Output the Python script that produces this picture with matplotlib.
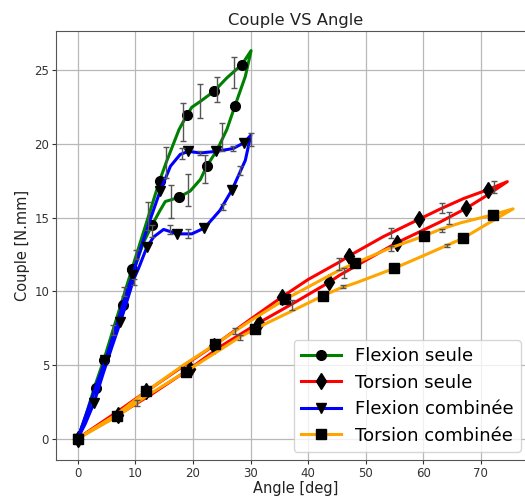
import matplotlib
matplotlib.use("Agg")
import matplotlib.pyplot as plt

# ---------------- data ----------------
# Flexion seule (loading branch then unloading branch)
flex_seule_angle = [0, 1.5, 3.0, 4.5, 6.3, 7.9, 9.4, 11.0, 12.6, 14.2, 15.4, 16.6, 17.6, 19.0, 19.8,
                    21.3, 23.7, 25.9, 28.5, 30.1,
                    29.1, 27.3, 25.9, 24.2, 22.4, 21.3, 19.5, 17.6, 16.1, 15.2, 14.3, 12.9, 11.4,
                    9.7, 7.8, 6.2, 4.7, 3.1, 1.6, 0]
flex_seule_couple = [0, 1.7, 3.6, 5.3, 7.6, 9.6, 11.5, 13.5, 15.5, 17.5, 18.8, 20.0, 21.0, 22.0, 22.5,
                     22.9, 23.6, 24.5, 25.4, 26.35,
                     24.6, 22.6, 21.0, 19.6, 18.5, 17.6, 16.8, 16.4, 16.2, 16.1, 15.5, 14.5, 13.3,
                     11.4, 9.1, 7.1, 5.2, 3.4, 1.6, 0]
flex_seule_marks = [0, 3, 6, 9, 13, 16, 18, 21, 24, 27, 31, 34, 37]

# Torsion seule
tors_seule_angle = [0, 6.8, 11.9, 19.0, 23.6, 30.0, 35.4, 40.0, 45.5, 47.1, 53.0, 59.3, 63.0, 67.0,
                    71.2, 74.6,
                    71.0, 67.5, 62.9, 55.4, 50.0, 45.5, 43.6, 37.5, 31.4, 25.0, 19.5, 12.6, 7.0, 0]
tors_seule_couple = [0, 1.8, 3.2, 5.1, 6.3, 8.1, 9.6, 10.8, 12.0, 12.4, 13.7, 14.9, 15.6, 16.3,
                     16.9, 17.45,
                     16.5, 15.65, 14.7, 13.3, 12.1, 11.1, 10.6, 9.2, 7.85, 6.3, 4.75, 2.95, 1.6, 0]
tors_seule_marks = [0, 2, 4, 6, 9, 11, 14, 17, 19, 22, 24, 26, 28]

# Flexion combinee
flex_comb_angle = [0, 1.6, 3.2, 4.8, 6.4, 8.0, 9.5, 11.0, 12.6, 14.3, 16.1, 17.8, 19.2, 21.3, 24.0,
                   27.0, 28.9, 30.05,
                   29.1, 26.8, 24.7, 22.0, 19.8, 17.2, 16.1, 14.9, 13.2, 12.0, 10.6, 9.7, 8.6,
                   7.4, 6.0, 4.4, 2.8, 1.3, 0]
flex_comb_couple = [0, 1.8, 3.6, 5.3, 7.3, 9.3, 11.1, 13.0, 14.9, 16.8, 18.5, 19.3, 19.5, 19.4, 19.5,
                    19.7, 20.1, 20.6,
                    18.9, 16.9, 15.5, 14.3, 13.9, 13.9, 14.05, 14.2, 13.7, 13.0, 11.6, 10.8, 9.4,
                    7.9, 6.3, 4.4, 2.4, 1.0, 0]
flex_comb_marks = [0, 3, 6, 9, 12, 14, 16, 19, 21, 23, 27, 31, 34]

# Torsion combinee
tors_comb_angle = [0, 6.8, 11.9, 18.4, 23.9, 30.0, 36.0, 45.5, 48.1, 54.0, 60.1, 62.9, 66.5, 72.1,
                   75.6,
                   71.2, 66.9, 60.5, 54.9, 48.5, 45.5, 42.6, 37.4, 30.8, 28.2, 18.8, 12.0, 6.8, 0]
tors_comb_couple = [0, 1.65, 3.2, 5.0, 6.4, 8.0, 9.45, 11.45, 11.9, 12.9, 13.75, 14.2, 14.65, 15.2,
                    15.6,
                    14.6, 13.6, 12.5, 11.55, 10.6, 10.2, 9.7, 8.7, 7.45, 6.9, 4.55, 2.9, 1.5, 0]
tors_comb_marks = [0, 2, 4, 6, 8, 10, 13, 16, 18, 21, 23, 25, 27]

# error bars (angle, couple, half-width)
flex_seule_err_angle = [18.2, 21.3, 24.2, 27.2, 25.1, 22.1, 19.2, 16.2, 15.3, 12.25, 10.1, 8.0]
flex_seule_err_couple = [21.5, 22.95, 23.7, 24.85, 20.5, 18.3, 16.9, 16.1, 18.75, 15.1, 12.5, 10.0]
flex_seule_err_size = [1.3, 1.15, 0.85, 1.05, 0.95, 0.95, 1.1, 1.15, 1.05, 0.95, 0.3, 0.3]

flex_comb_err_angle = [30.1, 28.2, 25.2, 19.1, 16.1, 18.1, 27.0, 12.9, 9.7, 6.2, 21.3]
flex_comb_err_couple = [20.3, 18.2, 15.7, 13.9, 14.2, 19.35, 19.7, 14.1, 10.65, 7.35, 19.4]
flex_comb_err_size = [0.45, 0.3, 0.2, 0.3, 0.3, 0.35, 0.2, 0.4, 0.2, 0.35, 0.15]

tors_seule_err_angle = [54.4, 63.3, 64.4, 72.3, 45.4, 46.2, 37.2, 27.3, 10.2]
tors_seule_err_couple = [13.95, 15.65, 15.0, 17.1, 11.85, 11.25, 9.05, 7.3, 2.4]
tors_seule_err_size = [0.35, 0.35, 0.4, 0.4, 0.4, 0.35, 0.35, 0.2, 0.2]

tors_comb_err_angle = [63.3, 64.2, 46.1, 54.4, 28.2]
tors_comb_err_couple = [14.15, 13.1, 10.3, 12.9, 6.85]
tors_comb_err_size = [0.1, 0.1, 0.1, 0.15, 0.15]

labels = ["Flexion seule", "Torsion seule", "Flexion combinée", "Torsion combinée"]
colors = ["green", "red", "blue", "orange"]
markers = ["o", "d", "v", "s"]

# ---------------- figure ----------------
W, H = 525, 498
fig = plt.figure(figsize=(W / 100, H / 100), dpi=100)
ax = fig.add_axes([56 / W, (H - 460) / H, (535 - 56) / W, (460 - 31) / H])

series = [
    (flex_seule_angle, flex_seule_couple, flex_seule_marks,
     flex_seule_err_angle, flex_seule_err_couple, flex_seule_err_size),
    (tors_seule_angle, tors_seule_couple, tors_seule_marks,
     tors_seule_err_angle, tors_seule_err_couple, tors_seule_err_size),
    (flex_comb_angle, flex_comb_couple, flex_comb_marks,
     flex_comb_err_angle, flex_comb_err_couple, flex_comb_err_size),
    (tors_comb_angle, tors_comb_couple, tors_comb_marks,
     tors_comb_err_angle, tors_comb_err_couple, tors_comb_err_size),
]

for (xa, ya, mk, ex, ey, ee), lab, col, m in zip(series, labels, colors, markers):
    ax.plot(xa, ya, color=col, lw=2.2, marker=m, markevery=mk, ms=7 if m != "d" else 8,
            mfc="black", mec="black", label=lab, zorder=2)
    ax.errorbar(ex, ey, yerr=ee, fmt="none", ecolor="#555555", elinewidth=1.0,
                capsize=2, capthick=1.0, zorder=3)

ax.set_xlim(-3.78, 79.4)
ax.set_ylim(-1.46, 27.68)
ax.set_xticks([0, 10, 20, 30, 40, 50, 60, 70])
ax.set_yticks([0, 5, 10, 15, 20, 25])
ax.grid(True, color="#b8b8b8", lw=0.9)
ax.set_axisbelow(True)
ax.tick_params(labelsize=8.5, colors="#333333", length=3, pad=2)
for s in ax.spines.values():
    s.set_color("#555555")

ax.set_xlabel("Angle [deg]", fontsize=10.5, color="#222222", labelpad=1)
ax.set_ylabel("Couple [N.mm]", fontsize=10.5, color="#222222", labelpad=3)
ax.set_title("Couple VS Angle", fontsize=11.8, color="#222222", pad=4)

leg = ax.legend(loc="lower right", bbox_to_anchor=(0.971, 0.019), borderaxespad=0,
                fontsize=13, framealpha=0.8, handlelength=2.2, borderpad=0.4,
                labelspacing=0.47, handletextpad=0.8)

fig.savefig("out.png", dpi=100)
